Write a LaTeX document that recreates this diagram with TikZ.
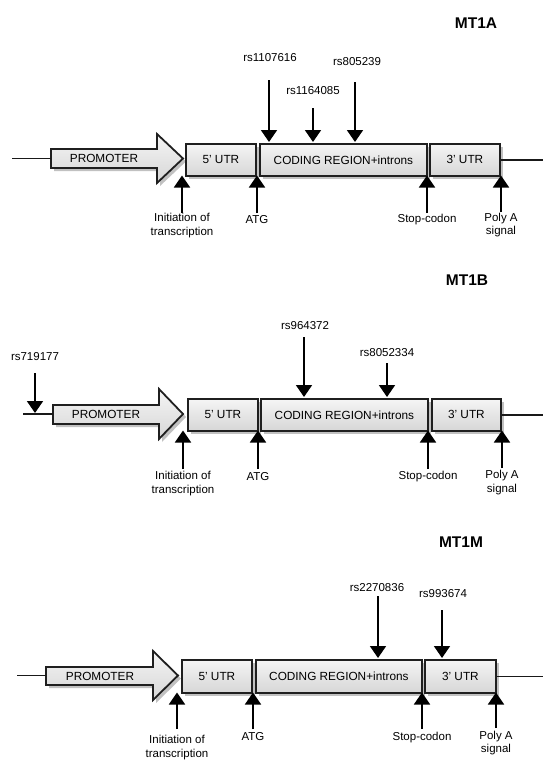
\documentclass[tikz,border=0pt]{standalone}
\usepackage{fontspec}
\setmainfont{Liberation Sans}
\usetikzlibrary{arrows.meta,shadows}
\tikzset{
  boxlook/.style={draw=black!88, line width=1.8pt, top color=gray!8, bottom color=gray!32,
    drop shadow={shadow xshift=3pt, shadow yshift=-3pt, fill=gray!70, opacity=0.7}},
  gbox/.style={boxlook, inner sep=0pt, font=\fontsize{11.8}{13}\selectfont},
  ptext/.style={font=\fontsize{11.8}{13}\selectfont, inner sep=0pt},
  lbl/.style={font=\fontsize{11.5}{13.5}\selectfont, align=center, inner sep=0pt},
  ttl/.style={font=\fontsize{15.5}{18}\selectfont\bfseries, inner sep=0pt},
  snp/.style={line width=1.8pt, -{Triangle[width=16pt,length=12pt]}},
  dna/.style={line width=1.5pt, black!90},
}
\newcommand{\genebox}[6]{% name, x1, x2, y1, y2, text
  \node[gbox, minimum width={#3-#2}, minimum height={#5-#4}, anchor=north west] (#1) at (#2,#4) {#6};}
\begin{document}
\begin{tikzpicture}[x=1pt,y=-1pt]
\useasboundingbox (0,0) rectangle (543,760);
% ================= MT1A =================
\node[ttl] (ta) at (476,23) {MT1A};
\coordinate (aL) at (12,158.5);
\coordinate (aR) at (543,158.5);
\draw[boxlook] (51,149) -- (157,149) -- (157,134) -- (183,158.5) -- (157,183) -- (157,168) -- (51,168) -- cycle;
\node[ptext] (apro) at (104,158.5) {PROMOTER};
\coordinate (aPL) at (51,158.5);
\genebox{a5}{185}{255}{143}{175}{5' UTR}
\genebox{acd}{259}{426}{143}{175}{CODING REGION+introns}
\genebox{a3}{429}{499}{143}{175}{3' UTR}
\draw[dna] (aL) -- (aPL);
\draw[dna] (a3.east) -- (a3.east -| aR);
% SNPs
\node[lbl] (as1) at (270,58) {rs1107616};
\node[lbl] (as2) at (313,91) {rs1164085};
\node[lbl] (as3) at (357,62) {rs805239};
\coordinate (as1t) at (269,80); \coordinate (as1b) at (269,142);
\coordinate (as2t) at (313,108); \coordinate (as2b) at (313,142);
\coordinate (as3t) at (355,82); \coordinate (as3b) at (355,142);
\draw[snp] (as1t) -- (as1b);
\draw[snp] (as2t) -- (as2b);
\draw[snp] (as3t) -- (as3b);
% landmarks
\node[lbl] (ai) at (182,225.5) {Initiation of\\transcription};
\node[lbl] (aa) at (257,220) {ATG};
\node[lbl] (as) at (427,220) {Stop-codon};
\node[lbl] (ap) at (501,225) {Poly A\\signal};
\coordinate (ai0) at (182,213); \coordinate (ai1) at (182,175.5);
\coordinate (aa0) at (257,213); \coordinate (aa1) at (257,175.5);
\coordinate (as0) at (427,213); \coordinate (as1) at (427,175.5);
\coordinate (ap0) at (501,212); \coordinate (ap1) at (501,175.5);
\draw[snp] (ai0) -- (ai1);
\draw[snp] (aa0) -- (aa1);
\draw[snp] (as0) -- (as1);
\draw[snp] (ap0) -- (ap1);
% ================= MT1B =================
\node[ttl] (tb) at (467,280) {MT1B};
\coordinate (bL) at (23,414);
\coordinate (bR) at (543,414);
\draw[boxlook] (53,405) -- (159,405) -- (159,389) -- (183,414) -- (159,439) -- (159,424) -- (53,424) -- cycle;
\node[ptext] (bpro) at (106,414.5) {PROMOTER};
\coordinate (bPL) at (53,414);
\genebox{b5}{187}{257}{398}{430}{5' UTR}
\genebox{bcd}{260}{427}{398}{430}{CODING REGION+introns}
\genebox{b3}{431}{500}{398}{430}{3' UTR}
\draw[dna] (bL) -- (bPL);
\draw[dna] (b3.east) -- (b3.east -| bR);
\node[lbl] (bs0) at (35,357) {rs719177};
\node[lbl] (bs1) at (305,326) {rs964372};
\node[lbl] (bs2) at (387,353) {rs8052334};
\coordinate (bs0t) at (35,373); \coordinate (bs0b) at (35,413);
\coordinate (bs1t) at (304,337); \coordinate (bs1b) at (304,397);
\coordinate (bs2t) at (387,363); \coordinate (bs2b) at (387,397);
\draw[snp] (bs0t) -- (bs0b);
\draw[snp] (bs1t) -- (bs1b);
\draw[snp] (bs2t) -- (bs2b);
\node[lbl] (bi) at (183,483.5) {Initiation of\\transcription};
\node[lbl] (ba) at (258,477) {ATG};
\node[lbl] (bs) at (428,477) {Stop-codon};
\node[lbl] (bp) at (502,482.5) {Poly A\\signal};
\coordinate (bi0) at (183,469); \coordinate (bi1) at (183,430.5);
\coordinate (ba0) at (258,469); \coordinate (ba1) at (258,430.5);
\coordinate (bs0) at (428,469); \coordinate (bs1) at (428,430.5);
\coordinate (bp0) at (502,468); \coordinate (bp1) at (502,430.5);
\draw[snp] (bi0) -- (bi1);
\draw[snp] (ba0) -- (ba1);
\draw[snp] (bs0) -- (bs1);
\draw[snp] (bp0) -- (bp1);
% ================= MT1M =================
\node[ttl] (tc) at (461,542) {MT1M};
\coordinate (cL) at (17,675.5);
\coordinate (cR) at (543,675.5);
\draw[boxlook] (46,667) -- (153,667) -- (153,651) -- (178,675.5) -- (153,700) -- (153,685) -- (46,685) -- cycle;
\node[ptext] (cpro) at (100,676) {PROMOTER};
\coordinate (cPL) at (46,675.5);
\genebox{c5}{181}{251}{659}{692}{5' UTR}
\genebox{ccd}{255}{421}{659}{692}{CODING REGION+introns}
\genebox{c3}{424}{495}{659}{692}{3' UTR}
\draw[dna] (cL) -- (cPL);
\draw[dna] (c3.east) -- (c3.east -| cR);
\node[lbl] (cs1) at (377,588) {rs2270836};
\node[lbl] (cs2) at (443,594) {rs993674};
\coordinate (cs1t) at (378,596); \coordinate (cs1b) at (378,658);
\coordinate (cs2t) at (442,610); \coordinate (cs2b) at (442,658);
\draw[snp] (cs1t) -- (cs1b);
\draw[snp] (cs2t) -- (cs2b);
\node[lbl] (ci) at (177,747.5) {Initiation of\\transcription};
\node[lbl] (ca) at (253,737) {ATG};
\node[lbl] (cs) at (422,738) {Stop-codon};
\node[lbl] (cp) at (496,743) {Poly A\\signal};
\coordinate (ci0) at (177,729); \coordinate (ci1) at (177,692.5);
\coordinate (ca0) at (253,729); \coordinate (ca1) at (253,692.5);
\coordinate (cs0) at (422,729); \coordinate (cs1) at (422,692.5);
\coordinate (cp0) at (496,728); \coordinate (cp1) at (496,692.5);
\draw[snp] (ci0) -- (ci1);
\draw[snp] (ca0) -- (ca1);
\draw[snp] (cs0) -- (cs1);
\draw[snp] (cp0) -- (cp1);
\end{tikzpicture}
\end{document}
